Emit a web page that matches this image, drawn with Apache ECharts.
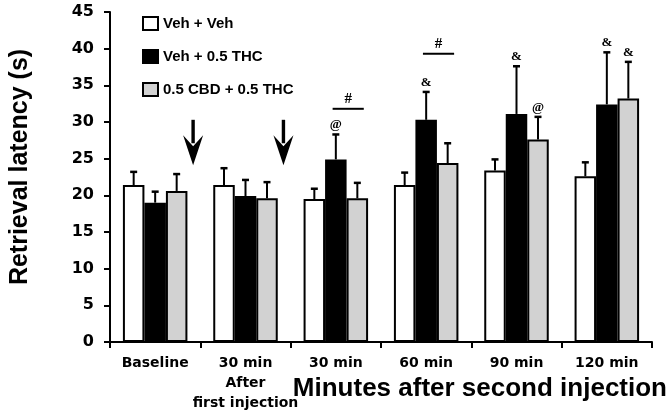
<!DOCTYPE html>
<html>
<head>
<meta charset="utf-8">
<script src="https://cdn.jsdelivr.net/npm/echarts@6/dist/echarts.min.js"></script>
<style>html,body{margin:0;padding:0;background:#fff;}#c{width:670px;height:414px;}</style>
</head>
<body>
<div id="c"></div>
<script>
// ---- data ----
var categories = ['Baseline', '30 min\nAfter\nfirst injection', '30 min', '60 min', '90 min', '120 min'];
var seriesNames = ['Veh + Veh', 'Veh + 0.5 THC', '0.5 CBD + 0.5 THC'];
var vehVeh = [21.4, 21.4, 19.5, 21.4, 23.4, 22.6];
var vehVehErr = [1.8, 2.3, 1.4, 1.7, 1.5, 1.9];
var vehThc = [19.0, 19.9, 24.9, 30.3, 31.1, 32.4];
var vehThcErr = [1.5, 2.2, 3.4, 3.8, 6.5, 7.1];
var cbdThc = [20.6, 19.6, 19.6, 24.4, 27.6, 33.2];
var cbdThcErr = [2.3, 2.2, 2.1, 2.7, 3.1, 5.0];
var vehVehMarks = ['', '', '', '', '', ''];
var vehThcMarks = ['', '', '@', '&', '&', '&'];
var cbdThcMarks = ['', '', '', '', '@', '&'];
var hashCategories = [2, 3];
var hashValues = [31.8, 39.3];
var arrowCategories = [0, 1];
var arrowTop = [30.3, 30.3];
var arrowBottom = [24.1, 24.1];
var yTicks = [0, 5, 10, 15, 20, 25, 30, 35, 40, 45];

// ---- style ----
var BAR_W = 21.5;
var colors = ['#ffffff', '#000000', '#d2d2d2'];
var means = [vehVeh, vehThc, cbdThc];
var errs = [vehVehErr, vehThcErr, cbdThcErr];
var marks = [vehVehMarks, vehThcMarks, cbdThcMarks];

function errRender(k) {
  return function (params, api) {
    var i = api.value(0), m = api.value(1), e = api.value(2);
    var c = api.coord([i, m]);
    var t = api.coord([i, m + e]);
    var x = c[0] + (k - 1) * BAR_W;
    var ch = [
      {type: 'line', shape: {x1: x, y1: c[1], x2: x, y2: t[1]}, style: {stroke: '#000', lineWidth: 2}},
      {type: 'line', shape: {x1: x - 3.5, y1: t[1], x2: x + 3.5, y2: t[1]}, style: {stroke: '#000', lineWidth: 2.5}}
    ];
    var lab = marks[k][params.dataIndex];
    if (lab) {
      ch.push({type: 'text', style: {text: lab, x: x, y: t[1] - 3, align: 'center', verticalAlign: 'bottom',
        font: 'bold 13px "Liberation Serif"', fill: '#000'}});
    }
    return {type: 'group', children: ch};
  };
}

function hashRender(params, api) {
  var i = api.value(0), v = api.value(1);
  var c = api.coord([i, v]);
  var x1 = c[0] - 0.15 * BAR_W, x2 = c[0] + 1.3 * BAR_W;
  return {type: 'group', children: [
    {type: 'line', shape: {x1: x1, y1: c[1], x2: x2, y2: c[1]}, style: {stroke: '#000', lineWidth: 2}},
    {type: 'text', style: {text: '#', x: (x1 + x2) / 2, y: c[1] - 2, align: 'center', verticalAlign: 'bottom',
      font: 'bold 15px "Liberation Serif"', fill: '#000'}}
  ]};
}

function arrowRender(params, api) {
  var i = api.value(0), top = api.value(1), bot = api.value(2);
  var band = api.size([1, 0])[0];
  var a = api.coord([i, top]);
  var b = api.coord([i, bot]);
  var x = a[0] + 0.42 * band;
  var yT = a[1], yB = b[1];
  var headTop = yB - 30;
  return {type: 'group', children: [
    {type: 'rect', shape: {x: x - 1.7, y: yT, width: 3.4, height: headTop - yT + 8}, style: {fill: '#000'}},
    {type: 'polygon', shape: {points: [[x - 10, headTop], [x, headTop + 11], [x + 10, headTop], [x, yB]]}, style: {fill: '#000'}}
  ]};
}

var series = [];
for (var k = 0; k < 3; k++) {
  series.push({
    name: seriesNames[k], type: 'bar', data: means[k], barWidth: BAR_W, barGap: '0%',
    itemStyle: {color: colors[k], borderColor: '#000', borderWidth: 2}, z: 2
  });
}
for (var k2 = 0; k2 < 3; k2++) {
  series.push({
    type: 'custom', renderItem: errRender(k2), z: 5,
    data: means[k2].map(function (v, i) { return [i, v, errs[k2][i]]; }),
    encode: {x: 0, y: [1, 2]}
  });
}
series.push({type: 'custom', renderItem: hashRender, z: 5,
  data: hashCategories.map(function (c, i) { return [c, hashValues[i]]; }), encode: {x: 0, y: 1}});
series.push({type: 'custom', renderItem: arrowRender, z: 5,
  data: arrowCategories.map(function (c, i) { return [c, arrowTop[i], arrowBottom[i]]; }), encode: {x: 0, y: [1, 2]}});

var chart = echarts.init(document.getElementById('c'), null, {renderer: 'canvas'});
chart.setOption({
  animation: false,
  backgroundColor: '#fff',
  title: {
    text: 'Minutes after second injection', right: 3, top: 376, padding: 0,
    textStyle: {fontFamily: '"Liberation Sans", Arial', fontWeight: 'bold', fontSize: 26, color: '#000'}
  },
  legend: {
    data: seriesNames, orient: 'vertical', left: 137, top: 11, itemWidth: 15, itemHeight: 13, itemGap: 18,
    icon: 'rect',
    textStyle: {fontFamily: '"Liberation Sans", Arial', fontWeight: 'bold', fontSize: 15, color: '#000'}
  },
  grid: {left: 91, right: 18, top: 12, bottom: 72},
  xAxis: {
    type: 'category', data: categories,
    axisLine: {lineStyle: {color: '#000', width: 2}},
    axisTick: {show: true, length: 6, lineStyle: {color: '#000', width: 2}},
    axisLabel: {interval: 0, margin: 11, lineHeight: 20, color: '#000', fontFamily: '"DejaVu Sans"', fontWeight: 'bold', fontSize: 14}
  },
  yAxis: {
    type: 'value', min: yTicks[0], max: yTicks[yTicks.length - 1], interval: yTicks[1] - yTicks[0],
    name: 'Retrieval latency (s)', nameLocation: 'middle', nameGap: 77,
    nameTextStyle: {fontFamily: '"Liberation Sans", Arial', fontWeight: 'bold', fontSize: 25, color: '#000', padding: [0, 0, 0, 20]},
    axisLine: {show: true, lineStyle: {color: '#000', width: 2}},
    axisTick: {show: true, length: 6, lineStyle: {color: '#000', width: 2}},
    splitLine: {show: false},
    axisLabel: {margin: 16, color: '#000', fontFamily: '"DejaVu Sans"', fontWeight: 'bold', fontSize: 16}
  },
  series: series
});
</script>
</body>
</html>
